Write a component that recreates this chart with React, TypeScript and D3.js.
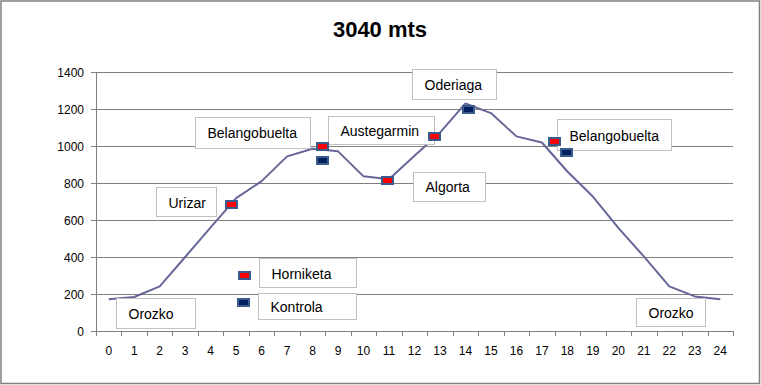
// @ts-nocheck
import React from 'react';
import * as d3 from 'd3';

// elevation profile, one value per km (0..24)
const kms = d3.range(0, 25).map(String);
const elevation = [171, 184, 241, 400, 560, 718, 810, 944, 985, 971, 836, 820, 947, 1072, 1230, 1178, 1052, 1019, 862, 727, 557, 403, 241, 187, 171];

// control points (x in km units, y in metres)
const redPoints = [
  [4.8, 683], [5.32, 302], [8.4, 999], [10.94, 815], [12.79, 1052], [17.51, 1023],
];
const navyPoints = [
  [5.29, 154], [8.39, 922], [14.1, 1195], [17.97, 965],
];

// place names, anchored at (left edge km, centre metres)
const labelText = ['Belangobuelta', 'Austegarmin', 'Oderiaga', 'Algorta', 'Belangobuelta', 'Urizar', 'Horniketa', 'Kontrola', 'Orozko', 'Orozko'];
const labelX = [3.37, 8.62, 11.89, 11.95, 17.58, 1.84, 5.88, 5.84, 0.27, 20.7];
const labelY = [1073, 1086, 1335, 782, 1061, 699, 316, 136, 98, 103];

const yTicks = [0, 200, 400, 600, 800, 1000, 1200, 1400];

// box sizes in px
const boxW = [115, 106, 84, 72, 114, 60, 97, 98, 79, 69];
const boxH = [31, 28, 30, 29, 31, 29, 29, 26, 30, 28];

const W = 761, H = 385;
const left = 96, right = 733, top = 72, bottom = 331;
const font = 'Arial, "Liberation Sans", sans-serif';

export default function App() {
  const xBand = d3.scaleBand().domain(kms).range([left, right]);
  const x = d3.scaleLinear().domain([-0.5, 24.5]).range([left, right]);
  const y = d3.scaleLinear().domain([0, 1400]).range([bottom, top]);

  const line = d3.line().x((d, i) => x(i)).y(d => y(d));

  const boundaries = d3.range(0, 26).map(i => Math.round(left + i * xBand.step()) + 0.5);

  const marker = (p, fill, k) => (
    <rect key={k} x={Math.round(x(p[0]) - 5.5)} y={Math.round(y(p[1]) - 3.5)} width={11} height={7}
      fill={fill} stroke="#3b5b8c" strokeWidth={2} />
  );

  return (
    <svg width={W} height={H} style={{ position: 'absolute', left: 0, top: 0, fontFamily: font }}>
      <rect x={0} y={0} width={W} height={H} fill="#fff" />
      <rect x={1} y={1} width={W - 2.5} height={H - 2.5} fill="none" stroke="#808080" strokeWidth={1.5} />

      <text x={380} y={37} textAnchor="middle" fontSize={22} fontWeight="bold">3040 mts</text>

      {/* grid and y axis */}
      {yTicks.map(t => (
        <g key={t}>
          <line x1={left - 5} x2={t === 0 ? left : right} y1={Math.round(y(t)) + 0.5} y2={Math.round(y(t)) + 0.5} stroke="#808080" />
          <text x={84} y={Math.round(y(t)) + 5} textAnchor="end" fontSize={12}>{t}</text>
        </g>
      ))}
      <line x1={left + 0.5} x2={left + 0.5} y1={top} y2={bottom} stroke="#808080" />

      {/* x axis */}
      <line x1={left} x2={right + 1} y1={bottom + 0.5} y2={bottom + 0.5} stroke="#808080" />
      {boundaries.map((bx, i) => (
        <line key={i} x1={bx} x2={bx} y1={bottom} y2={bottom + 5} stroke="#808080" />
      ))}
      {kms.map(k => (
        <text key={k} x={xBand(k) + xBand.bandwidth() / 2} y={355} textAnchor="middle" fontSize={12}>{k}</text>
      ))}

      {/* profile */}
      <path d={line(elevation)} fill="none" stroke="#666699" strokeWidth={2} strokeLinejoin="round" />

      {/* labels */}
      {labelText.map((t, i) => {
        const bx = Math.round(x(labelX[i])) + 0.5;
        const cy = y(labelY[i]);
        const by = Math.round(cy - boxH[i] / 2) + 0.5;
        return (
          <g key={i}>
            <rect x={bx} y={by} width={boxW[i]} height={boxH[i]} fill="#fff" stroke="#c0c0c0" />
            <text x={bx + 12} y={cy + 6} fontSize={14}>{t}</text>
          </g>
        );
      })}

      {/* markers */}
      {redPoints.map((p, i) => marker(p, '#ff0000', 'r' + i))}
      {navyPoints.map((p, i) => marker(p, '#002060', 'n' + i))}
    </svg>
  );
}
